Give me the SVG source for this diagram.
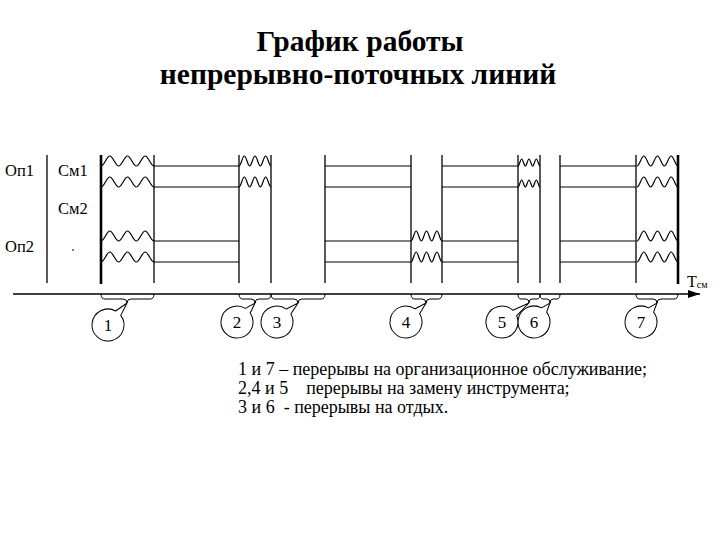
<svg xmlns="http://www.w3.org/2000/svg" width="720" height="540" viewBox="0 0 720 540">
<style>
  text{font-family:'Liberation Serif','Times New Roman',serif;fill:#000}
  .title{font-size:29.5px;font-weight:bold;text-anchor:middle}
  .lab{font-size:16.5px}
  .leg{font-size:18px}
  .num{font-size:17px;text-anchor:middle}
  .ln{stroke:#000;stroke-width:1.2;fill:none}
  .vt{stroke:#000;stroke-width:1.3;fill:none}
  .thick{stroke:#000;stroke-width:2.6;fill:none}
  .wave{stroke:#000;stroke-width:1.2;fill:none}
  .brace{stroke:#000;stroke-width:1;fill:none}
  .callout{stroke:#000;stroke-width:1;fill:#fff}
</style>
<defs>
  <marker id="arr" markerUnits="userSpaceOnUse" markerWidth="12" markerHeight="8" refX="12" refY="4" orient="auto">
    <path d="M0,0 L12,4 L0,8 Z" fill="#000"/>
  </marker>
  <path id="w1" class="wave" d="M0,0 c3.22,0 5.62,-10 8.83,-10 c3.22,0 5.62,10 8.83,10 c3.22,0 5.62,-10 8.83,-10 c3.22,0 5.62,10 8.83,10 c3.22,0 5.62,-10 8.83,-10 c3.22,0 5.62,10 8.83,10"/>
  <path id="w7" class="wave" d="M0,0 c2.49,0 4.35,-10 6.83,-10 c2.49,0 4.35,10 6.83,10 c2.49,0 4.35,-10 6.83,-10 c2.49,0 4.35,10 6.83,10 c2.49,0 4.35,-10 6.83,-10 c2.49,0 4.35,10 6.83,10"/>
  <path id="w2" class="wave" d="M0,0 c1.94,0 3.39,-10 5.33,-10 c1.94,0 3.39,10 5.33,10 c1.94,0 3.39,-10 5.33,-10 c1.94,0 3.39,10 5.33,10 c1.94,0 3.39,-10 5.33,-10 c1.94,0 3.39,10 5.33,10"/>
  <path id="w4" class="wave" d="M0,0 c1.88,0 3.29,-10 5.17,-10 c1.88,0 3.29,10 5.17,10 c1.88,0 3.29,-10 5.17,-10 c1.88,0 3.29,10 5.17,10 c1.88,0 3.29,-10 5.17,-10 c1.88,0 3.29,10 5.17,10"/>
  <path id="w5" class="wave" d="M0,0 c1.33,0 2.33,-7 3.67,-7 c1.33,0 2.33,7 3.67,7 c1.33,0 2.33,-7 3.67,-7 c1.33,0 2.33,7 3.67,7 c1.33,0 2.33,-7 3.67,-7 c1.33,0 2.33,7 3.67,7"/>
</defs>

<g id="title">
  <text class="title" x="360" y="51">График работы</text>
  <text class="title" x="358" y="84">непрерывно-поточных линий</text>
</g>

<g id="labels">
  <text class="lab" x="5" y="176">Оп1</text>
  <text class="lab" x="58" y="176">См1</text>
  <text class="lab" x="58" y="214">См2</text>
  <text class="lab" x="5" y="252">Оп2</text>
  <line x1="73" y1="249" x2="73" y2="251" stroke="#000" stroke-width="1"/>
  <line class="vt" x1="47" y1="155" x2="47" y2="283"/>
</g>

<g id="verticals">
  <line class="thick" x1="101" y1="155" x2="101" y2="284"/>
  <line class="vt" x1="154" y1="155" x2="154" y2="283"/>
  <line class="vt" x1="239" y1="155" x2="239" y2="283"/>
  <line class="vt" x1="271" y1="155" x2="271" y2="283"/>
  <line class="vt" x1="325" y1="155" x2="325" y2="283"/>
  <line class="vt" x1="411" y1="155" x2="411" y2="283"/>
  <line class="vt" x1="442" y1="155" x2="442" y2="283"/>
  <line class="vt" x1="518" y1="155" x2="518" y2="283"/>
  <line class="vt" x1="540" y1="155" x2="540" y2="283"/>
  <line class="vt" x1="560" y1="155" x2="560" y2="283"/>
  <line class="vt" x1="636" y1="155" x2="636" y2="283"/>
  <line class="thick" x1="678" y1="155" x2="678" y2="284"/>
</g>

<g id="work-lines">
  <path class="ln" d="M154,166 H239 M325,166 H411 M442,166 H518 M560,166 H636"/>
  <path class="ln" d="M154,187 H239 M325,187 H411 M442,187 H518 M560,187 H636"/>
  <path class="ln" d="M154,241 H239 M325,241 H411 M442,241 H518 M560,241 H636"/>
  <path class="ln" d="M154,262 H239 M325,262 H411 M442,262 H518 M560,262 H636"/>
</g>

<g id="waves">
  <use href="#w1" x="101" y="166"/>
  <use href="#w1" x="101" y="187"/>
  <use href="#w1" x="101" y="241"/>
  <use href="#w1" x="101" y="262"/>
  <use href="#w2" x="239" y="166"/>
  <use href="#w2" x="239" y="187"/>
  <use href="#w4" x="411" y="241"/>
  <use href="#w4" x="411" y="262"/>
  <use href="#w5" x="518" y="166"/>
  <use href="#w5" x="518" y="187"/>
  <use href="#w7" x="637" y="166"/>
  <use href="#w7" x="637" y="187"/>
  <use href="#w7" x="637" y="241"/>
  <use href="#w7" x="637" y="262"/>
</g>

<g id="axis">
  <line x1="13" y1="294" x2="700" y2="294" stroke="#000" stroke-width="1.5" marker-end="url(#arr)"/>
  <text x="687" y="287" font-size="16">Т<tspan font-size="10" dy="1">см</tspan></text>
</g>

<g id="connectors">
  <path class="brace" d="M101,294 Q101,299 105,299 L123,299 Q127,299 127,303 Q127,299 131,299 L150,299 Q154,299 154,294"/>
  <path class="brace" d="M239,294 Q239,299 243,299 L251,299 Q255,299 255,303 Q255,299 259,299 L267,299 Q271,299 271,294"/>
  <path class="brace" d="M271,294 Q271,299 275,299 L294,299 Q298,299 298,303 Q298,299 302,299 L321,299 Q325,299 325,294"/>
  <path class="brace" d="M411,294 Q411,299 415,299 L422,299 Q426,299 426,303 Q426,299 430,299 L438,299 Q442,299 442,294"/>
  <path class="brace" d="M518,294 Q518,299 521,299 L526,299 Q529,299 529,303 Q529,299 532,299 L537,299 Q540,299 540,294"/>
  <path class="brace" d="M540,294 Q540,299 543,299 L547,299 Q550,299 550,303 Q550,299 553,299 L557,299 Q560,299 560,294"/>
  <path class="brace" d="M636,294 Q636,299 640,299 L653,299 Q657,299 657,303 Q657,299 661,299 L674,299 Q678,299 678,294"/>
</g>

<g id="n1">
  <path class="callout" transform="translate(108,325) rotate(-49.2)" d="M15.65,-3.33 L29.1,0 L15.65,3.33 A16,16 0 1,1 15.65,-3.33 Z"/>
  <text class="num" x="108" y="331">1</text>
</g>
<g id="n2">
  <path class="callout" transform="translate(237,322) rotate(-46.5)" d="M15.65,-3.33 L26.2,0 L15.65,3.33 A16,16 0 1,1 15.65,-3.33 Z"/>
  <text class="num" x="237" y="328">2</text>
</g>
<g id="n3">
  <path class="callout" transform="translate(277,322) rotate(-42.1)" d="M15.65,-3.33 L28.3,0 L15.65,3.33 A16,16 0 1,1 15.65,-3.33 Z"/>
  <text class="num" x="277" y="328">3</text>
</g>
<g id="n4">
  <path class="callout" transform="translate(406,322) rotate(-43.5)" d="M15.65,-3.33 L27.6,0 L15.65,3.33 A16,16 0 1,1 15.65,-3.33 Z"/>
  <text class="num" x="406" y="328">4</text>
</g>
<g id="n5">
  <path class="callout" transform="translate(502,322) rotate(-35.1)" d="M15.65,-3.33 L33,0 L15.65,3.33 A16,16 0 1,1 15.65,-3.33 Z"/>
  <text class="num" x="502" y="328">5</text>
</g>
<g id="n6">
  <path class="callout" transform="translate(534,322) rotate(-49.9)" d="M15.65,-3.33 L24.8,0 L15.65,3.33 A16,16 0 1,1 15.65,-3.33 Z"/>
  <text class="num" x="534" y="328">6</text>
</g>
<g id="n7">
  <path class="callout" transform="translate(641,322) rotate(-49.9)" d="M15.65,-3.33 L24.8,0 L15.65,3.33 A16,16 0 1,1 15.65,-3.33 Z"/>
  <text class="num" x="641" y="328">7</text>
</g>

<g id="legend">
  <text class="leg" x="238" y="375">1 и 7 – перерывы на организационное обслуживание;</text>
  <text class="leg" x="238" y="394" xml:space="preserve">2,4 и 5    перерывы на замену инструмента;</text>
  <text class="leg" x="238" y="413" xml:space="preserve">3 и 6  - перерывы на отдых.</text>
</g>
</svg>
